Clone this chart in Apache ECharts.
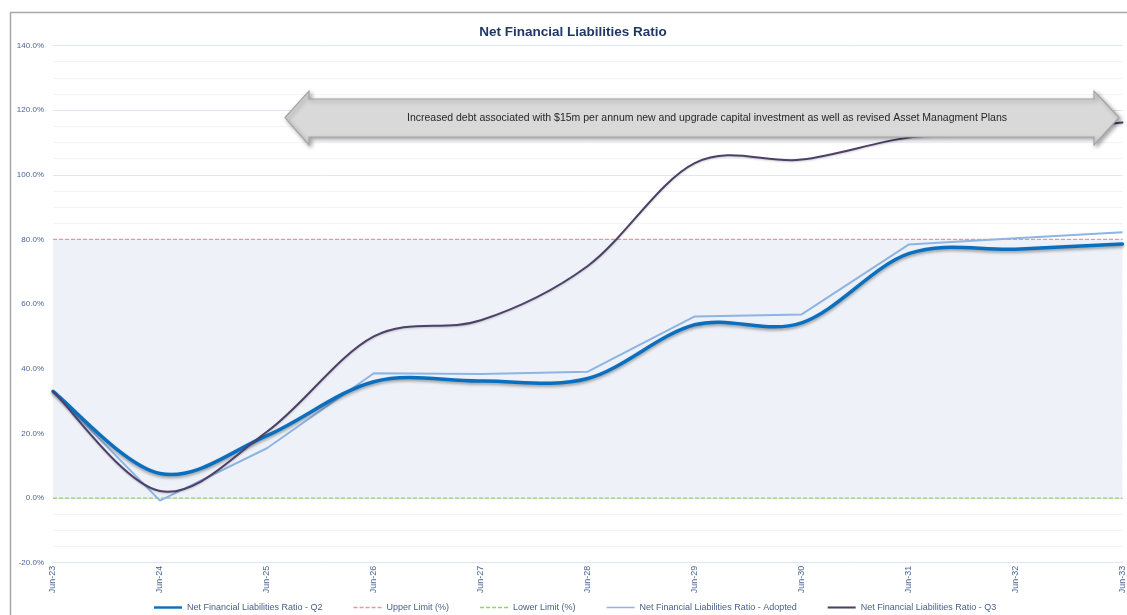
<!DOCTYPE html>
<html>
<head>
<meta charset="utf-8">
<script src="https://cdn.jsdelivr.net/npm/echarts@6/dist/echarts.min.js"></script>
<style>
html,body{margin:0;padding:0;background:#fff;}
#chart{width:1127px;height:615px;}
</style>
</head>
<body>
<div id="chart"></div>
<script>
var categories = ['Jun-23','Jun-24','Jun-25','Jun-26','Jun-27','Jun-28','Jun-29','Jun-30','Jun-31','Jun-32','Jun-33'];
var q2Values      = [33.0, 7.6, 19.3, 36.0, 36.2, 37.0, 53.6, 54.2, 75.6, 77.0, 78.6];
var adoptedValues = [33.0, -0.8, 15.4, 38.6, 38.4, 39.1, 56.2, 56.8, 78.4, 80.4, 82.2];
var q3Values      = [33.0, 2.2, 20.5, 50.0, 55.0, 71.8, 103.6, 104.7, 111.5, 113.5, 116.2];
var upperLimit    = [80, 80, 80, 80, 80, 80, 80, 80, 80, 80, 80];
var lowerLimit    = [0, 0, 0, 0, 0, 0, 0, 0, 0, 0, 0];
var yTicks = { min: -20, max: 140, interval: 20 };
var annotationText = 'Increased debt associated with $15m per annum new and upgrade capital investment as well as revised Asset Managment Plans';

var FONT = 'Liberation Sans';
var COLORS = {q2: '#0a6fbf', upper: '#e39a9a', lower: '#95d35e', adopted: '#8db4e2', q3: '#4e3f68'};
var chart = echarts.init(document.getElementById('chart'), null, {renderer: 'canvas'});

// Excel-style (Catmull-Rom) smoothed line drawn through the axis scales
function smoothLineSeries(name, values, color, width, shadow, z) {
  return {
    name: name, type: 'custom', z: z, silent: true,
    itemStyle: {color: color},
    encode: {x: 0, y: 1},
    data: values.map(function (v, i) { return [i, v]; }),
    renderItem: function (params, api) {
      if (params.dataIndex !== 0) return null;
      var pts = values.map(function (v, i) { return api.coord([i, v]); });
      var d = 'M' + pts[0][0] + ' ' + pts[0][1];
      for (var i = 0; i < pts.length - 1; i++) {
        var p0 = pts[i - 1] || pts[i], p1 = pts[i], p2 = pts[i + 1], p3 = pts[i + 2] || pts[i + 1];
        var c1x = p1[0] + (p2[0] - p0[0]) / 6, c1y = p1[1] + (p2[1] - p0[1]) / 6;
        var c2x = p2[0] - (p3[0] - p1[0]) / 6, c2y = p2[1] - (p3[1] - p1[1]) / 6;
        d += ' C' + c1x + ' ' + c1y + ' ' + c2x + ' ' + c2y + ' ' + p2[0] + ' ' + p2[1];
      }
      return {
        type: 'path',
        shape: {pathData: d},
        style: {fill: 'none', stroke: color, lineWidth: width, lineJoin: 'round', lineCap: 'round',
          shadowColor: shadow.color, shadowBlur: shadow.blur, shadowOffsetY: shadow.dy, shadowOffsetX: 0}
      };
    }
  };
}

var dashIcon = 'path://M0,0H4V1.7H0ZM6,0H10V1.7H6ZM12,0H16V1.7H12ZM18,0H22V1.7H18ZM24,0H28V1.7H24Z';
var option = {
  animation: false,
  backgroundColor: '#ffffff',
  title: {
    text: 'Net Financial Liabilities Ratio',
    left: 568, top: 20, textAlign: 'center',
    textStyle: {fontFamily: FONT, fontSize: 13.5, fontWeight: 'bold', color: '#1f3864'}
  },
  legend: {
    top: 598, left: 149,
    itemWidth: 28, itemHeight: 8, itemGap: 31,
    textStyle: {fontFamily: FONT, fontSize: 9, color: '#4a5f86'},
    data: [
      {name: 'Net Financial Liabilities Ratio - Q2', icon: 'path://M0,0H30V2.6H0Z', itemStyle: {color: COLORS.q2}},
      {name: 'Upper Limit (%)', icon: dashIcon, itemStyle: {color: COLORS.upper}},
      {name: 'Lower Limit (%)', icon: dashIcon, itemStyle: {color: COLORS.lower}},
      {name: 'Net Financial Liabilities Ratio - Adopted', icon: 'path://M0,0H30V1.6H0Z', itemStyle: {color: COLORS.adopted}},
      {name: 'Net Financial Liabilities Ratio - Q3', icon: 'path://M0,0H30V2.2H0Z', itemStyle: {color: COLORS.q3}}
    ]
  },
  grid: {left: 53, right: 4, top: 45.5, bottom: 52.3, containLabel: false},
  xAxis: {
    type: 'category', data: categories, boundaryGap: false,
    axisLine: {show: false}, axisTick: {show: false},
    axisLabel: {rotate: 90, fontFamily: FONT, fontSize: 9, color: '#4a6592', margin: 3},
    splitLine: {show: false}
  },
  yAxis: {
    type: 'value', min: yTicks.min, max: yTicks.max, interval: yTicks.interval,
    axisLine: {show: false}, axisTick: {show: false},
    axisLabel: {fontFamily: FONT, fontSize: 8, color: '#4a6592', margin: 9,
      formatter: function (v) { return v.toFixed(1) + '%'; }},
    splitLine: {show: true, lineStyle: {color: '#dce6f4', width: 1}},
    minorTick: {show: false, splitNumber: 4},
    minorSplitLine: {show: true, lineStyle: {color: '#f0f3f9', width: 1}}
  },
  series: [
    {
      name: 'Upper Limit (%)', type: 'line', data: upperLimit, showSymbol: false, silent: true, z: 1,
      lineStyle: {color: COLORS.upper, width: 1.2, type: [4, 2]},
      itemStyle: {color: COLORS.upper},
      areaStyle: {color: '#eef2f8', opacity: 1, origin: 0}
    },
    {
      name: 'Lower Limit (%)', type: 'line', data: lowerLimit, showSymbol: false, silent: true, z: 2,
      lineStyle: {color: COLORS.lower, width: 1.2, type: [4, 2]},
      itemStyle: {color: COLORS.lower}
    },
    {
      name: 'Net Financial Liabilities Ratio - Adopted', type: 'line', data: adoptedValues, showSymbol: false, z: 3,
      lineStyle: {color: COLORS.adopted, width: 2},
      itemStyle: {color: COLORS.adopted}
    },
    smoothLineSeries('Net Financial Liabilities Ratio - Q2', q2Values, COLORS.q2, 3.5,
      {color: 'rgba(0,0,0,0.35)', blur: 3, dy: 2}, 4),
    smoothLineSeries('Net Financial Liabilities Ratio - Q3', q3Values, COLORS.q3, 2,
      {color: 'rgba(0,0,0,0.2)', blur: 2, dy: 1}, 5)
  ],
  graphic: [
    {
      type: 'rect', silent: true, z: -10,
      shape: {x: 10.5, y: 12.5, width: 1200, height: 700},
      style: {fill: 'none', stroke: '#a8a8a8', lineWidth: 1.5}
    },
    {
      type: 'polygon', z: 100, silent: true,
      shape: {points: [[285,117.5],[309,91],[309,99],[1094,99],[1094,91],[1119,117.5],[1094,145],[1094,137],[309,137],[309,145]]},
      style: {fill: '#d9d9d9', stroke: '#a6a6a6', lineWidth: 1.2,
        shadowColor: 'rgba(0,0,0,0.35)', shadowBlur: 4, shadowOffsetX: 2, shadowOffsetY: 2}
    },
    {
      type: 'text', z: 101, silent: true,
      x: 707, y: 118,
      style: {text: annotationText, fontFamily: FONT, fontSize: 10.5, fill: '#262626', align: 'center', verticalAlign: 'middle'}
    }
  ]
};
chart.setOption(option);
</script>
</body>
</html>
